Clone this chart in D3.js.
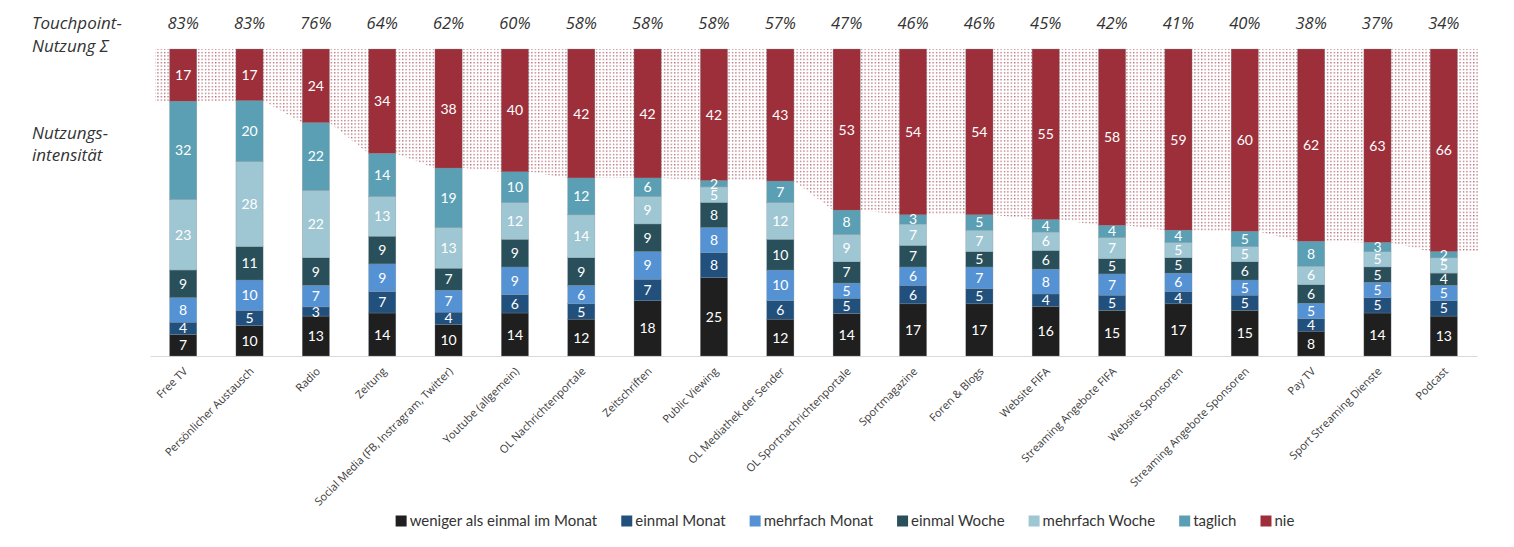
<!DOCTYPE html>
<html><head><meta charset="utf-8">
<script src="https://cdn.jsdelivr.net/npm/d3@7/dist/d3.min.js"></script>
<style>
html,body{margin:0;padding:0;background:#fff;}
svg{display:block;}
</style></head>
<body>
<svg id="chart" width="1514" height="547"></svg>
<script>
const categories = ["Free TV","Persönlicher Austausch","Radio","Zeitung","Social Media (FB, Instragram, Twitter)","Youtube (allgemein)","OL Nachrichtenportale","Zeitschriften","Public Viewing","OL Mediathek der Sender","OL Sportnachrichtenportale","Sportmagazine","Foren & Blogs","Website FIFA","Streaming Angebote FIFA","Website Sponsoren","Streaming Angebote Sponsoren","Pay TV","Sport Streaming Dienste","Podcast"];
const seriesNames = ["weniger als einmal im Monat","einmal Monat","mehrfach Monat","einmal Woche","mehrfach Woche","taglich","nie"];
const weniger      = [7,10,13,14,10,14,12,18,25,12,14,17,17,16,15,17,15,8,14,13];
const einmalMonat  = [4,5,3,7,4,6,5,7,8,6,5,6,5,4,5,4,5,4,5,5];
const mehrfachMonat= [8,10,7,9,7,9,6,9,8,10,5,6,7,8,7,6,5,5,5,5];
const einmalWoche  = [9,11,9,9,7,9,9,9,8,10,7,7,5,6,5,5,6,6,5,4];
const mehrfachWoche= [23,28,22,13,13,12,14,9,5,12,9,7,7,6,7,5,5,6,5,5];
const taglich      = [32,20,22,14,19,10,12,6,2,7,8,3,5,4,4,4,5,8,3,2];
const nie          = [17,17,24,34,38,40,42,42,42,43,53,54,54,55,58,59,60,62,63,66];
const touchpoint   = ["83%","83%","76%","64%","62%","60%","58%","58%","58%","57%","47%","46%","46%","45%","42%","41%","40%","38%","37%","34%"];
const colors = ["#1f1f1f","#22507c","#5592d4","#294f5b","#9fc6d3","#5b9fb5","#9d2f3b"];

const seriesData = [weniger,einmalMonat,mehrfachMonat,einmalWoche,mehrfachWoche,taglich,nie];
const rows = categories.map((c,i)=>{
  const r = {cat:c};
  seriesNames.forEach((s,k)=>{ r[s] = seriesData[k][i]; });
  return r;
});
const stacked = d3.stack().keys(seriesNames).offset(d3.stackOffsetExpand)(rows);

const svg = d3.select("#chart");
const x = d3.scaleBand().domain(categories).range([150,1477]).paddingInner(0.59).paddingOuter(0.295);
const y = d3.scaleLinear().domain([0,1]).range([356,49]);

// dotted pattern
const defs = svg.append("defs");
const pat = defs.append("pattern").attr("id","dots").attr("patternUnits","userSpaceOnUse")
  .attr("width",3.4).attr("height",3.4);
pat.append("rect").attr("x",1).attr("y",1).attr("width",1.1).attr("height",1.1).attr("fill","#8e2634");

// dotted area above "nie" boundary
const nieLayer = stacked[stacked.length-1];
const pts = [];
pts.push([155, y(nieLayer[0][0])]);
nieLayer.forEach((d,i)=>{
  const cx = x(categories[i]);
  pts.push([cx, y(d[0])]);
  pts.push([cx + x.bandwidth(), y(d[0])]);
});
pts.push([1478, y(nieLayer[nieLayer.length-1][0])]);
pts.push([1478, y(1)]);
pts.push([155, y(1)]);
svg.append("path").attr("d", d3.line()(pts) + "Z").attr("fill","url(#dots)");

// axis
const axisG = svg.append("g").attr("transform","translate(0,356)")
  .call(d3.axisBottom(x).tickSize(0).tickSizeOuter(0));
axisG.select(".domain").attr("stroke","#d9d9d9").attr("stroke-width",1.2);
axisG.selectAll(".tick text")
  .attr("font-family","'Open Sans', sans-serif").attr("font-size",11).attr("fill","#3a3a3a")
  .attr("text-anchor","end").attr("x",0).attr("y",0).attr("dy",0)
  .attr("transform","translate(5,16) rotate(-45)");

// bars
const layers = svg.append("g").selectAll("g").data(stacked).join("g")
  .attr("fill",(d,i)=>colors[i]);
layers.selectAll("rect").data(d=>d).join("rect")
  .attr("x",d=>x(d.data.cat))
  .attr("y",d=>y(d[1]))
  .attr("width",x.bandwidth())
  .attr("height",d=>y(d[0])-y(d[1]))
  .attr("stroke","#7f8c93").attr("stroke-width",0.5).attr("stroke-opacity",0.6);

// segment labels
stacked.forEach((layer,k)=>{
  svg.append("g").selectAll("text").data(layer).join("text")
    .attr("x",d=>x(d.data.cat)+x.bandwidth()/2)
    .attr("y",d=>(y(d[0])+y(d[1]))/2)
    .attr("dy","0.36em")
    .attr("text-anchor","middle")
    .attr("font-family","Lato, 'Open Sans', sans-serif")
    .attr("font-size",14)
    .attr("fill","#ffffff")
    .text(d=>d.data[seriesNames[k]]);
});

// top percentages
svg.append("g").selectAll("text").data(categories).join("text")
  .attr("x",c=>x(c)+x.bandwidth()/2)
  .attr("y",29)
  .attr("text-anchor","middle")
  .attr("font-family","'Open Sans', sans-serif")
  .attr("font-style","italic")
  .attr("font-size",16.5)
  .attr("fill","#333333")
  .text((c,i)=>touchpoint[i]);

// left labels
const leftLabels = [["Touchpoint-",29],["Nutzung Σ",52],["Nutzungs-",139],["intensität",161]];
svg.append("g").selectAll("text").data(leftLabels).join("text")
  .attr("x",32).attr("y",d=>d[1])
  .attr("font-family","'Open Sans', sans-serif")
  .attr("font-style","italic")
  .attr("font-size",17)
  .attr("fill","#333333")
  .text(d=>d[0]);

// legend
const legend = svg.append("g");
const items = legend.selectAll("g").data(seriesNames).join("g");
items.append("rect").attr("width",11).attr("height",11).attr("y",515.5).attr("fill",(d,i)=>colors[i]);
items.append("text").attr("x",14).attr("y",521).attr("dy","0.35em")
  .attr("font-family","Lato, 'Open Sans', sans-serif").attr("font-size",15).attr("fill","#333333")
  .text(d=>d);
let widths = [];
items.each(function(){ widths.push(14 + this.querySelector("text").getComputedTextLength()); });
const gap = 24;
const total = d3.sum(widths) + gap*(widths.length-1);
let cur = 845 - total/2;
items.each(function(d,i){ d3.select(this).attr("transform",`translate(${cur},0)`); cur += widths[i] + gap; });
</script>
</body></html>
